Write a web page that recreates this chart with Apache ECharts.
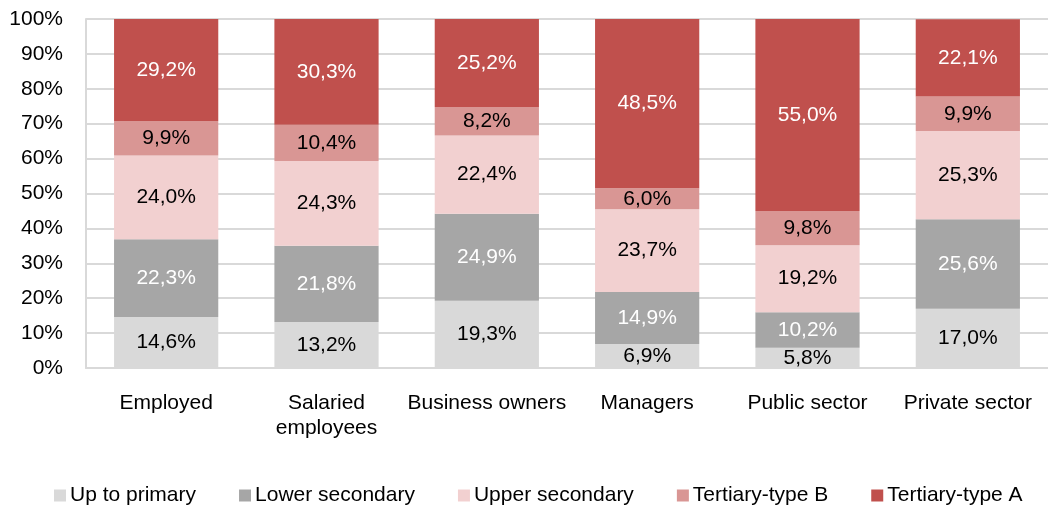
<!DOCTYPE html>
<html>
<head>
<meta charset="utf-8">
<script src="https://cdn.jsdelivr.net/npm/echarts@6/dist/echarts.min.js"></script>
<style>html,body{margin:0;padding:0;background:#fff}#c{width:1048px;height:509px}</style>
</head>
<body>
<div id="c"></div>
<script>
const categories = ['Employed', 'Salaried\nemployees', 'Business owners', 'Managers', 'Public sector', 'Private sector'];
const seriesNames = ['Up to primary', 'Lower secondary', 'Upper secondary', 'Tertiary-type B', 'Tertiary-type A'];
const upToPrimary = [14.6, 13.2, 19.3, 6.9, 5.8, 17.0];
const lowerSecondary = [22.3, 21.8, 24.9, 14.9, 10.2, 25.6];
const upperSecondary = [24.0, 24.3, 22.4, 23.7, 19.2, 25.3];
const tertiaryB = [9.9, 10.4, 8.2, 6.0, 9.8, 9.9];
const tertiaryA = [29.2, 30.3, 25.2, 48.5, 55.0, 22.1];
const yTicks = [0, 10, 20, 30, 40, 50, 60, 70, 80, 90, 100];

const values = [upToPrimary, lowerSecondary, upperSecondary, tertiaryB, tertiaryA];
const colors = ['#d9d9d9', '#a6a6a6', '#f2d0d0', '#d99694', '#c0504d'];
const labelColors = ['#000', '#fff', '#000', '#000', '#fff'];
const FONT = 'Liberation Sans, Arial, sans-serif';
const FS = 21;

const chart = echarts.init(document.getElementById('c'));
chart.setOption({
  animation: false,
  grid: { left: 86, right: -7, top: 19, bottom: 141, containLabel: false },
  legend: {
    left: 54, top: 485, padding: 0,
    itemWidth: 12, itemHeight: 12, itemGap: 43,
    icon: 'rect',
    textStyle: { fontFamily: FONT, fontSize: FS, color: '#000', padding: [0, 0, 0, -1] },
    data: seriesNames
  },
  xAxis: {
    type: 'category',
    data: categories,
    axisLine: { show: true, lineStyle: { color: '#d9d9d9', width: 2 } },
    axisTick: { show: false },
    axisLabel: { fontFamily: FONT, fontSize: FS, color: '#000', margin: 23, lineHeight: 25, interval: 0 }
  },
  yAxis: {
    type: 'value',
    min: yTicks[0], max: yTicks[yTicks.length - 1], interval: 10,
    axisLine: { show: true, lineStyle: { color: '#d9d9d9', width: 2 } },
    axisTick: { show: false },
    splitLine: { show: true, lineStyle: { color: '#d9d9d9', width: 2 } },
    axisLabel: { fontFamily: FONT, fontSize: FS, color: '#000', margin: 23, formatter: v => v + '%' }
  },
  series: seriesNames.map((name, i) => ({
    name: name,
    type: 'bar',
    stack: 'total',
    barWidth: '65%',
    data: values[i],
    itemStyle: { color: colors[i] },
    label: {
      show: true,
      position: 'inside',
      fontFamily: FONT,
      fontSize: FS,
      color: labelColors[i],
      formatter: p => p.value.toFixed(1).replace('.', ',') + '%'
    }
  }))
});
</script>
</body>
</html>
